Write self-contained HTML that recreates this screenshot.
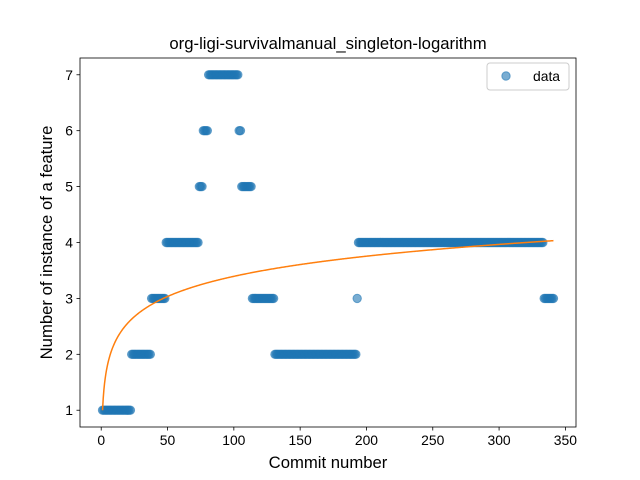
<!DOCTYPE html>
<html><head><meta charset="utf-8"><style>body{margin:0;background:#fff}svg{display:block;font-family:"Liberation Sans","DejaVu Sans",sans-serif}</style></head>
<body>
<svg id="c" width="640" height="480"></svg>
<script>
const levels=[1,2,3,4,5,6,7,6,5,3,2,3,4,3];
const runs=[22,15,11,25,3,4,23,2,8,17,62,1,140,8];
const xTicks=[0,50,100,150,200,250,300,350];
const yTicks=[1,2,3,4,5,6,7];
const fitA=1.0, fitB=0.52;
const NS="http://www.w3.org/2000/svg";
const svg=document.getElementById('c');
const L=80,R=576,T=58,B=427,xmin=-16,xmax=358,ymin=0.7,ymax=7.3;
const X=v=>L+(v-xmin)/(xmax-xmin)*(R-L);
const Y=v=>B-(v-ymin)/(ymax-ymin)*(B-T);
function el(t,a,p){const e=document.createElementNS(NS,t);for(const k in a)e.setAttribute(k,a[k]);(p||svg).appendChild(e);return e;}
function tx(s,a){const e=el('text',a);e.textContent=s;return e;}
const pts=el('g',{});


let i=1;
levels.forEach((lv,k)=>{for(let j=0;j<runs[k];j++){const c=el('circle',{cx:X(i),cy:Y(lv),r:4.2,fill:'#1f77b4',stroke:'#1f77b4','fill-opacity':0.6,'stroke-opacity':0.6},pts);i++;}});
const n=i-1;
let d='';for(let x=1;x<=n;x+=0.5){d+=(d?'L':'M')+X(x).toFixed(2)+','+Y(fitA+fitB*Math.log(x)).toFixed(2);}
const fl=el('path',{d:d,fill:'none',stroke:'#ff7f0e','stroke-width':1.5});


const fr=el('rect',{x:L,y:T,width:R-L,height:B-T,fill:'none',stroke:'#000','stroke-width':0.8});


xTicks.forEach(v=>{el('line',{x1:X(v),x2:X(v),y1:B,y2:B+3.5,stroke:'#000','stroke-width':0.8});const t=tx(String(v),{x:X(v),y:B+18,'text-anchor':'middle','font-size':13.9});});
yTicks.forEach(v=>{el('line',{x1:L-3.5,x2:L,y1:Y(v),y2:Y(v),stroke:'#000','stroke-width':0.8});const t=tx(String(v),{x:L-7,y:Y(v)+5,'text-anchor':'end','font-size':13.9});});
const ti=tx('org-ligi-survivalmanual_singleton-logarithm',{x:(L+R)/2,y:49,'text-anchor':'middle','font-size':16.7});

const xl=tx('Commit number',{x:(L+R)/2,y:468,'text-anchor':'middle','font-size':16.7});

const yl=tx('Number of instance of a feature',{x:0,y:0,'text-anchor':'middle','font-size':16.7,transform:'translate(52,'+((T+B)/2)+') rotate(-90)'});

const lg=el('g',{});

el('rect',{x:487,y:63,width:82,height:27,rx:3,fill:'#fff',stroke:'#ccc','stroke-width':1},lg);
el('circle',{cx:506,cy:76,r:4.2,fill:'#1f77b4',stroke:'#1f77b4','fill-opacity':0.6,'stroke-opacity':0.6},lg);
const lt=el('text',{x:533,y:81,'font-size':13.9},lg);lt.textContent='data';

</script>
</body></html>
